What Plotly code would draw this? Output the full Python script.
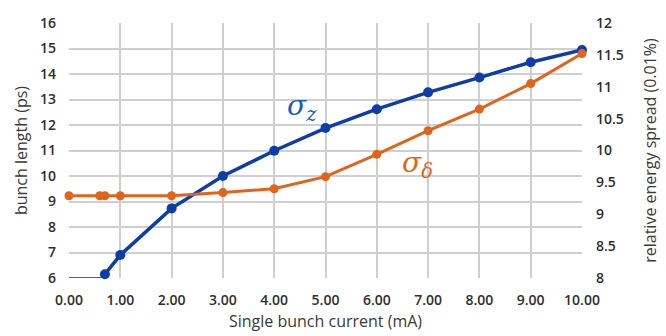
import plotly.graph_objects as go

current_z = [0.7, 1, 2, 3, 4, 5, 6, 7, 8, 9, 10]
bunch_length = [6.15, 6.9, 8.73, 10.0, 10.99, 11.88, 12.62, 13.28, 13.86, 14.46, 14.94]
floor_x = [0, 0.7]
floor_y = [6, 6]

current_d = [0, 0.6, 0.7, 1, 2, 3, 4, 5, 6, 7, 8, 9, 10]
energy_spread = [9.29, 9.29, 9.29, 9.29, 9.29, 9.34, 9.40, 9.59, 9.94, 10.31, 10.65, 11.05, 11.52]

x_ticks = [0, 1, 2, 3, 4, 5, 6, 7, 8, 9, 10]

BLUE = "#0D3DA8"
ORANGE = "#E2641C"
FONT = "Open Sans"
TICKFONT = dict(family=FONT, size=14, color="#2E2E2E", weight=600)
TITLEFONT = dict(family=FONT, size=16, color="#3A3A3A")

fig = go.Figure()
fig.add_trace(go.Scatter(x=floor_x, y=floor_y, mode="lines",
                         line=dict(color="#1A2A6C", width=1.5), cliponaxis=False,
                         showlegend=False, hoverinfo="skip"))
fig.add_trace(go.Scatter(x=current_d, y=energy_spread, mode="lines+markers", yaxis="y2",
                         line=dict(color=ORANGE, width=3), marker=dict(color=ORANGE, size=9),
                         cliponaxis=False, showlegend=False))
fig.add_trace(go.Scatter(x=current_z, y=bunch_length, mode="lines+markers",
                         line=dict(color=BLUE, width=3.5), marker=dict(color=BLUE, size=10),
                         cliponaxis=False, showlegend=False))

fig.add_annotation(x=4.55, y=12.7, xref="x", yref="y", showarrow=False,
                   text="<i>σ<sub>z</sub></i>",
                   font=dict(family="DejaVu Serif", size=28, color="#1A5FB4"))
fig.add_annotation(x=6.8, y=10.45, xref="x", yref="y", showarrow=False,
                   text="<i>σ<sub>δ</sub></i>",
                   font=dict(family="DejaVu Serif", size=28, color=ORANGE))

fig.update_layout(
    width=666, height=336,
    margin=dict(l=69, r=84, t=23, b=58, autoexpand=False),
    paper_bgcolor="white", plot_bgcolor="white",
    font=dict(family=FONT, color="#333333", size=14),
    xaxis=dict(range=[0, 10], tickvals=x_ticks, tickformat=".2f", automargin=False,
               showgrid=True, gridcolor="#CFCFCF", gridwidth=1.5,
               zeroline=False, showline=False, ticks="", ticklabelstandoff=12,
               tickfont=TICKFONT,
               title=dict(text="Single bunch current (mA)", font=TITLEFONT, standoff=7)),
    yaxis=dict(range=[6, 16], dtick=1, showgrid=True, gridcolor="#CFCFCF", gridwidth=1.5,
               zeroline=False, showline=False, ticks="", ticklabelstandoff=12, automargin=False,
               tickfont=TICKFONT,
               title=dict(text="bunch length (ps)", font=TITLEFONT, standoff=8)),
    yaxis2=dict(range=[8, 12], dtick=0.5, overlaying="y", side="right", showgrid=False,
                zeroline=False, showline=False, ticks="", ticklabelstandoff=13, automargin=False,
                tickfont=TICKFONT,
                title=dict(text="relative energy spread (0.01%)", font=TITLEFONT, standoff=21)),
)

fig.write_html("out.html")
